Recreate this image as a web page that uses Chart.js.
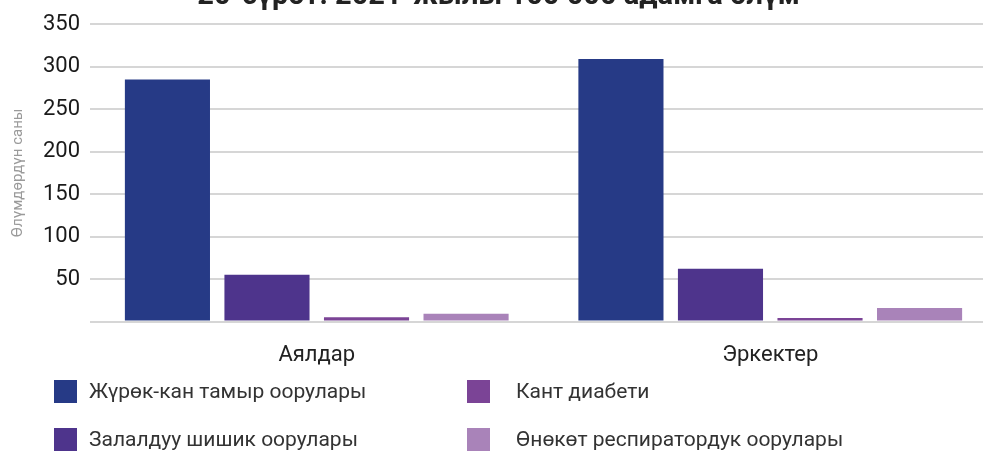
<!DOCTYPE html>
<html>
<head>
<meta charset="utf-8">
<script src="https://cdn.jsdelivr.net/npm/chart.js@4"></script>
<style>
  html, body { margin: 0; padding: 0; background: #fff; }
  body { width: 983px; height: 451px; overflow: hidden; position: relative; font-family: Roboto, sans-serif; }
  #wrap { position: absolute; left: 0; top: -30px; width: 1010px; height: 400px; }
  #legend { position: absolute; left: 0; top: 0; width: 983px; height: 451px; pointer-events: none; }
  .item { position: absolute; display: flex; align-items: center; height: 24px; font-size: 21px; color: #333; white-space: nowrap; }
  .box { width: 23px; height: 23px; display: inline-block; }
</style>
</head>
<body>
<div id="wrap"><canvas id="deathChart"></canvas></div>
<div id="legend"></div>
<script>
const categories = ["Аялдар", "Эркектер"];
const seriesNames = ["Жүрөк-кан тамыр оорулары", "Залалдуу шишик оорулары", "Кант диабети", "Өнөкөт респиратордук оорулары"];
const cardioValues = [285, 309];
const cancerValues = [55, 62];
const diabetesValues = [5, 4];
const respiratoryValues = [9, 16];
const yTicks = [0, 50, 100, 150, 200, 250, 300, 350];

const colors = ["#263a86", "#4e348c", "#7b4496", "#a983b9"];
const values = [cardioValues, cancerValues, diabetesValues, respiratoryValues];
const FONT = "Roboto, sans-serif";

const ctx = document.getElementById("deathChart");

const deathChart = new Chart(ctx, {
    type: "bar",
    data: {
        labels: categories,
        datasets: seriesNames.map((name, i) => ({
            label: name,
            data: values[i],
            backgroundColor: colors[i],
            barPercentage: 0.855,
            categoryPercentage: 0.878
        }))
    },
    options: {
        responsive: true,
        maintainAspectRatio: false,
        animation: false,
        layout: { padding: { left: 0, right: 13, top: 0, bottom: 0 } },
        plugins: {
            legend: { display: false },
            tooltip: { enabled: false },
            title: {
                display: true,
                text: "20-сүрөт. 2021-жылы 100 000 адамга өлүм",
                color: "#222",
                font: { family: FONT, size: 29, weight: "bold" },
                padding: { top: 9.5, bottom: 9.9 }
            }
        },
        scales: {
            x: {
                grid: { display: false },
                border: { display: false },
                ticks: {
                    color: "#222",
                    font: { family: FONT, size: 22 },
                    padding: 13
                },
                afterFit: (scale) => { scale.height = 48.5; }
            },
            y: {
                min: 0,
                max: 350,
                afterBuildTicks: (scale) => { scale.ticks = yTicks.map(v => ({ value: v })); },
                grid: { color: "#d6d6d6", lineWidth: 2, drawTicks: false },
                border: { display: false },
                ticks: {
                    color: "#1a1a1a",
                    font: { family: FONT, size: 22 },
                    padding: 10,
                    callback: (v) => v === 0 ? "" : v
                },
                title: {
                    display: true,
                    text: "Өлүмдөрдүн саны",
                    color: "#9a9a9a",
                    font: { family: FONT, size: 15 },
                    padding: { top: 9, bottom: 0 }
                },
                afterFit: (scale) => { scale.width = 90; }
            }
        }
    }
});

// legend in two columns, built from the datasets
const legendPos = [[54, 380, 89], [54, 428, 89], [467, 380, 516], [467, 428, 516]];
const legendEl = document.getElementById("legend");
deathChart.data.datasets.forEach((ds, i) => {
    const [bx, by, tx] = legendPos[i];
    const box = document.createElement("div");
    box.className = "box";
    box.style.cssText = `position:absolute;left:${bx}px;top:${by}px;background:${ds.backgroundColor}`;
    legendEl.appendChild(box);
    const txt = document.createElement("div");
    txt.className = "item";
    txt.style.left = tx + "px";
    txt.style.top = (by - 1) + "px";
    txt.textContent = ds.label;
    legendEl.appendChild(txt);
});
</script>
</body>
</html>
